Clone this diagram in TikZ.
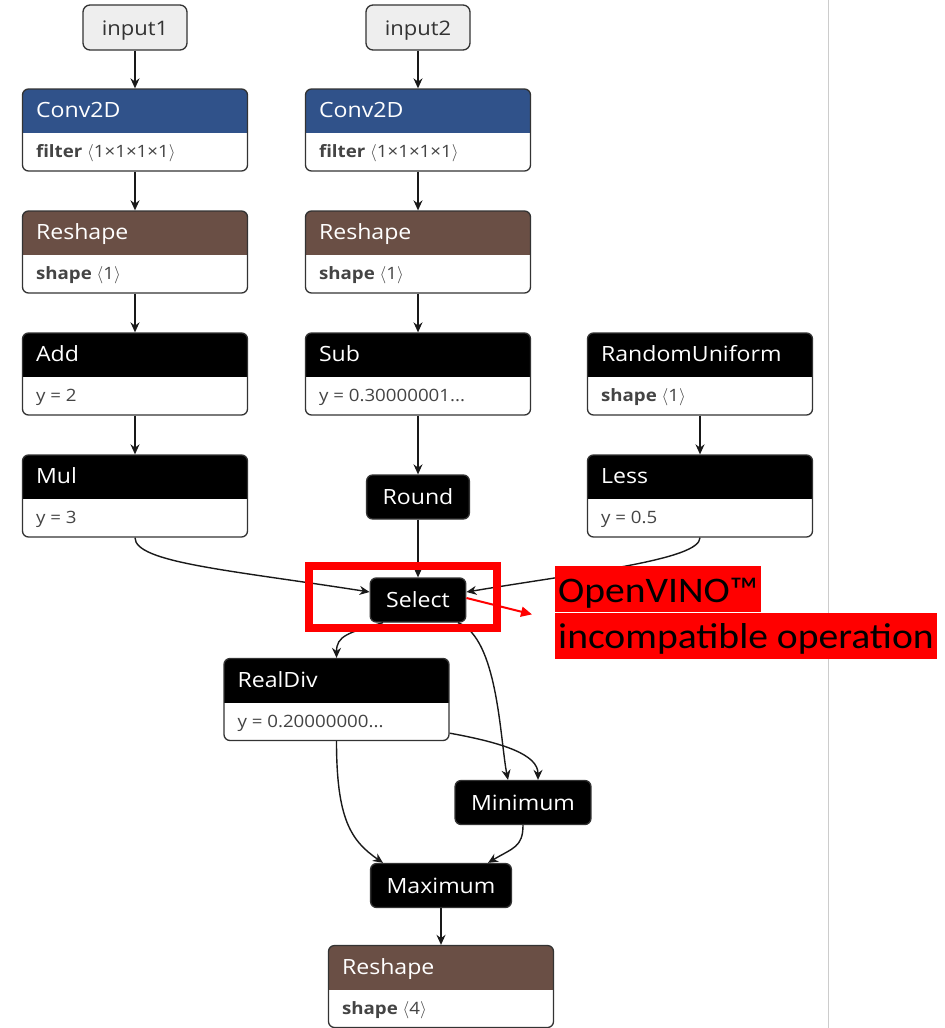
\documentclass[tikz,border=0pt]{standalone}
\usepackage{fontspec}
\setmainfont{Open Sans}[FakeStretch=1.1]
\newfontfamily\notefont{Carlito}[FakeStretch=1.1]
\usepackage{tikz}
\usetikzlibrary{arrows.meta, positioning, calc}
\definecolor{convblue}{HTML}{30528A}
\definecolor{shapebrown}{HTML}{6A4F45}
\definecolor{inputgray}{HTML}{EEEEEE}
\definecolor{bordergray}{HTML}{333333}
\definecolor{attrgray}{HTML}{444444}
\definecolor{warnred}{HTML}{FF0000}

\newcommand{\tens}[1]{\textcolor{attrgray}{$\langle$#1$\rangle$}}
\newcommand{\opnode}[5]{%
  \node[opbox=#1, #3] (#2) {};
  \node[optitle] (#2-t) at ([xshift=14pt, yshift=-22pt]#2.north west) {#4};
  \node[opattr] (#2-a) at ([xshift=14pt, yshift=-63pt]#2.north west) {#5};
}

\begin{document}
\begin{tikzpicture}[
    x=1pt, y=-1pt,
    node distance=38.7pt,
    opbox/.style={draw=bordergray, line width=1.3pt, rounded corners=6pt, fill=white,
      minimum width=225pt, minimum height=82pt, inner sep=0pt,
      path picture={\fill[#1, sharp corners] (path picture bounding box.north west)
        rectangle ([yshift=-44pt]path picture bounding box.north east);}},
    optitle/.style={anchor=west, text=white, inner sep=0pt, text height=15pt, text depth=0pt,
      font=\fontsize{21}{25}\selectfont},
    opattr/.style={anchor=west, text=attrgray, inner sep=0pt, text height=13pt, text depth=0pt,
      font=\fontsize{17}{20}\selectfont},
    opsmall/.style={draw=bordergray, line width=1.3pt, fill=black, text=white, rounded corners=6pt,
      minimum height=44pt, inner xsep=16pt, text height=15pt, text depth=0pt,
      font=\fontsize{21}{25}\selectfont},
    inbox/.style={draw=bordergray, line width=1.3pt, fill=inputgray, text=bordergray, rounded corners=7pt,
      minimum width=104pt, minimum height=45pt, text height=15pt, text depth=0pt,
      font=\fontsize{20}{24}\selectfont},
    flow/.style={-{Stealth[length=10pt, width=9pt]}, line width=1.4pt, draw=black!90},
    markbox/.style={draw=warnred, line width=8pt},
    warn/.style={fill=warnred, text=black, inner xsep=3pt, inner ysep=0pt, minimum height=46pt,
      text height=26pt, text depth=0pt, font=\notefont\fontsize{36}{40}\selectfont},
    warnarrow/.style={draw=warnred, line width=2pt, -{Triangle[length=11pt, width=10pt]}}
]
\fill[white] (0,0) rectangle (945,1028);
\useasboundingbox (0,0) rectangle (945,1028);
\draw[black!20, line width=1pt] (828,0) -- (828,1028);

% left branch
\node[inbox] (input1) at (135,27.5) {input1};
\opnode{convblue}{conv1}{below=37.7pt of input1}{Conv2D}{\textbf{filter} \tens{1×1×1×1}}
\opnode{shapebrown}{reshape1}{below=of conv1}{Reshape}{\textbf{shape} \tens{1}}
\opnode{black}{add}{below=of reshape1}{Add}{y = 2}
\opnode{black}{mul}{below=of add}{Mul}{y = 3}

% middle branch
\node[inbox] (input2) at (418,27.5) {input2};
\opnode{convblue}{conv2}{below=37.7pt of input2}{Conv2D}{\textbf{filter} \tens{1×1×1×1}}
\opnode{shapebrown}{reshape2}{below=of conv2}{Reshape}{\textbf{shape} \tens{1}}
\opnode{black}{sub}{below=of reshape2}{Sub}{y = 0.30000001...}
\node[opsmall, below=58.7pt of sub] (round) {Round};
\node[opsmall, below=57.7pt of round] (select) {Select};

% right branch
\opnode{black}{rnd}{right=55.7pt of sub}{RandomUniform}{\textbf{shape} \tens{1}}
\opnode{black}{less}{below=of rnd}{Less}{y = 0.5}

% after select
\opnode{black}{realdiv}{at={(336.5,699.5)}}{RealDiv}{y = 0.20000000...}
\node[opsmall] (minimum) at (523,802.5) {Minimum};
\node[opsmall] (maximum) at (441,885.5) {Maximum};
\opnode{shapebrown}{reshape3}{below=36.7pt of maximum}{Reshape}{\textbf{shape} \tens{4}}

\draw[flow] (input1) -- (conv1);
\draw[flow] (conv1) -- (reshape1);
\draw[flow] (reshape1) -- (add);
\draw[flow] (add) -- (mul);
\draw[flow] (input2) -- (conv2);
\draw[flow] (conv2) -- (reshape2);
\draw[flow] (reshape2) -- (sub);
\draw[flow] (sub) -- (round);
\draw[flow] (rnd) -- (less);
\draw[flow] (round) -- (select);
\draw[flow] (mul.south) .. controls +(0,25) and +(-140,-22) .. ([yshift=8pt]select.west);
\draw[flow] (less.south) .. controls +(0,22) and +(120,-20) .. ([yshift=8pt]select.east);
\draw[flow] ([xshift=-35pt]select.south) .. controls +(-35,10) and +(0,-22) .. (realdiv.north);
\draw[flow] ([xshift=40pt]select.south) .. controls +(40,15) and +(-8,-40) .. ([xshift=-15pt]minimum.north);
\draw[flow] ([yshift=8pt]realdiv.south east) .. controls +(55,10) and +(0,-25) .. ([xshift=15pt]minimum.north);
\draw[flow] (realdiv.south) .. controls +(0,78) and +(-32,-22) .. ([xshift=-58pt]maximum.north);
\draw[flow] (minimum.south) .. controls +(0,22) and +(25,-15) .. ([xshift=47pt]maximum.north);
\draw[flow] (maximum) -- (reshape3);

% annotation
\draw[markbox] (309,566) rectangle (497,628);
\node[warn, anchor=north west] (warn1) at (555,566) {OpenVINO™};
\node[warn, anchor=north west] (warn2) at (warn1.south west) {incompatible operation};
\draw[warnarrow] ([yshift=2pt]select.east) -- ([xshift=-23pt, yshift=-2pt]warn1.south west);
\end{tikzpicture}
\end{document}
